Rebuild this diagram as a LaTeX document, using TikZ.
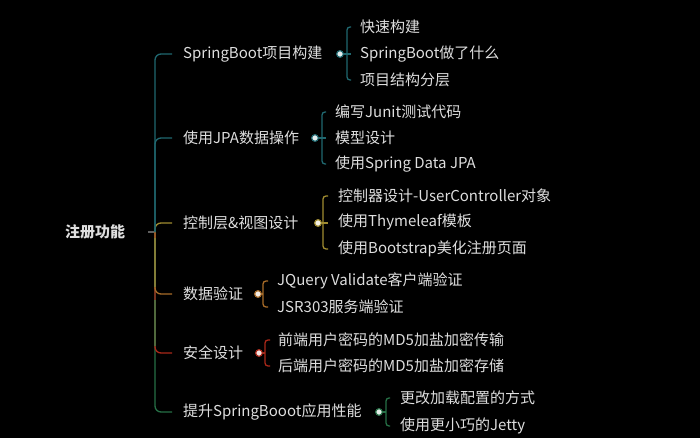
\documentclass[tikz,border=0pt]{standalone}
\usepackage{fontspec}
\setmainfont{Noto Sans CJK SC}
\usetikzlibrary{calc}
\definecolor{cteal}{RGB}{32,104,112}
\definecolor{cgold}{RGB}{160,140,48}
\definecolor{corange}{RGB}{168,108,40}
\definecolor{cred}{RGB}{170,40,25}
\definecolor{cgreen}{RGB}{38,112,70}
\definecolor{colive}{RGB}{130,125,55}
\definecolor{colgreen}{RGB}{80,105,60}
\definecolor{ctext}{RGB}{222,222,222}
\definecolor{croot}{RGB}{95,95,95}
\tikzset{
  txt/.style={text=ctext, anchor=west, inner sep=0pt, font=\fontsize{15}{18}\selectfont},
  roottxt/.style={text=ctext, inner sep=0pt, font=\fontsize{15}{18}\selectfont\bfseries},
  conn/.style={line width=1.3pt, rounded corners=6pt},
  brk/.style={line width=1.3pt, rounded corners=3pt},
  dotnode/.style={circle, inner sep=0pt, minimum size=6.5pt, line width=1pt, draw=#1, fill=white!88!#1}
}
\begin{document}
\begin{tikzpicture}[x=1pt,y=-1pt]
\fill[black] (0,0) rectangle (700,438);
\useasboundingbox (0,0) rectangle (700,438);

% root
\node[roottxt] (r) at (95,232) {注册功能};
\coordinate (rs) at (148,232);
\coordinate (j) at (155,232);

% main branches
\node[txt] (b1) at (183,54) {SpringBoot项目构建};
\node[txt] (b2) at (183,138) {使用JPA数据操作};
\node[txt] (b3) at (183,223) {控制层\&视图设计};
\node[txt] (b4) at (183,294) {数据验证};
\node[txt] (b5) at (183,353) {安全设计};
\node[txt] (b6) at (183,412) {提升SpringBooot应用性能};

% dots
\node[dotnode=cteal] (d1) at (340,54) {};
\node[dotnode=cteal] (d2) at (315,138) {};
\node[dotnode=cgold] (d3) at (318,223) {};
\node[dotnode=corange] (d4) at (258,294) {};
\node[dotnode=cred] (d5) at (259,353) {};
\node[dotnode=cgreen] (d6) at (379,412) {};

% children
\node[txt] (c11) at (360,27) {快速构建};
\node[txt] (c12) at (360,54) {SpringBoot做了什么};
\node[txt] (c13) at (360,80) {项目结构分层};
\node[txt] (c21) at (335,112) {编写Junit测试代码};
\node[txt] (c22) at (335,138) {模型设计};
\node[txt] (c23) at (335,164) {使用Spring Data JPA};
\node[txt] (c31) at (338,196) {控制器设计-UserController对象};
\node[txt] (c32) at (338,222) {使用Thymeleaf模板};
\node[txt] (c33) at (338,249) {使用Bootstrap美化注册页面};
\node[txt] (c41) at (277,281) {JQuery Validate客户端验证};
\node[txt] (c42) at (277,307) {JSR303服务端验证};
\node[txt] (c51) at (278,340) {前端用户密码的MD5加盐加密传输};
\node[txt] (c52) at (278,366) {后端用户密码的MD5加盐加密存储};
\node[txt] (c61) at (400,398) {更改加载配置的方式};
\node[txt] (c62) at (400,426) {使用更小巧的Jetty};

% root line
\draw[croot, line width=1.3pt] (rs) -- (j);

% trunk connectors
\draw[conn, cgreen] (j) |- ([xshift=-11pt]b6.west);
\draw[conn, cred] (j) |- ([xshift=-11pt]b5.west);
\draw[conn, corange] (j) |- ([xshift=-11pt]b4.west);
\draw[line width=1.3pt, colive] (155,238) -- (155,287);
\draw[line width=1.3pt, colgreen] (155,300) -- (155,346);
\draw[conn, cgold] (j) |- ([xshift=-11pt]b3.west);
\draw[conn, cteal] (j) |- ([xshift=-11pt]b2.west);
\draw[conn, cteal] (j) |- ([xshift=-11pt]b1.west);

% brackets
\draw[brk, cteal] ([xshift=-9pt]c11.west) -| (347,54) |- ([xshift=-9pt]c13.west);
\draw[brk, cteal] (d1) -- ([xshift=-9pt]c12.west);
\draw[brk, cteal] ([xshift=-9pt]c21.west) -| (322,138) |- ([xshift=-9pt]c23.west);
\draw[brk, cteal] (d2) -- ([xshift=-9pt]c22.west);
\draw[brk, cgold] ([xshift=-10pt]c31.west) -| (323,223) |- ([xshift=-10pt]c33.west);
\draw[brk, cgold] (d3) -- ([xshift=-10pt]c32.west |- d3);
\draw[brk, corange] ([xshift=-9pt]c41.west) -| (263,294) |- ([xshift=-9pt]c42.west);
\draw[brk, corange] (d4) -- (263,294);
\draw[brk, cred] ([xshift=-8pt]c51.west) -| (265,353) |- ([xshift=-8pt]c52.west);
\draw[brk, cred] (d5) -- (265,353);
\draw[brk, cgreen] ([xshift=-10pt]c61.west) -| (386,412) |- ([xshift=-10pt]c62.west);
\draw[brk, cgreen] (d6) -- (386,412);

% redraw dots on top
\node[dotnode=cteal] at (d1) {};
\node[dotnode=cteal] at (d2) {};
\node[dotnode=cgold] at (d3) {};
\node[dotnode=corange] at (d4) {};
\node[dotnode=cred] at (d5) {};
\node[dotnode=cgreen] at (d6) {};
\end{tikzpicture}
\end{document}
